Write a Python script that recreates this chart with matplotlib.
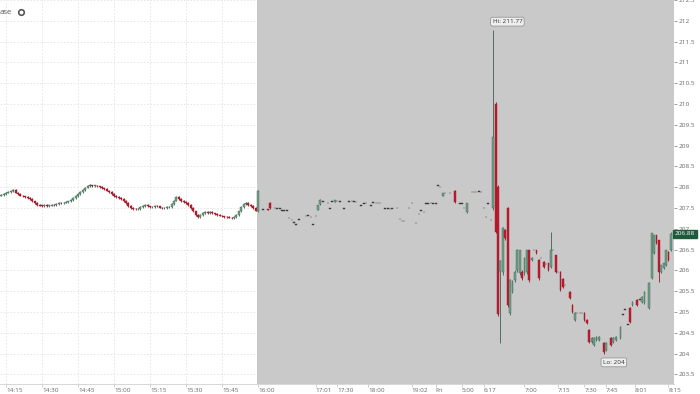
import matplotlib
matplotlib.use("Agg")
import matplotlib.pyplot as plt
from matplotlib.lines import Line2D
import numpy as np

plt.rcParams["font.family"] = ["Open Sans", "DejaVu Sans"]

# one slot per traded minute; regular session 14:12 - 15:59
day_slots = list(range(107))
day_open = [
    207.80, 207.82, 207.84, 207.87, 207.88, 207.90, 207.93, 207.87, 207.83, 207.80,
    207.78, 207.76, 207.74, 207.72, 207.66, 207.62, 207.58, 207.56, 207.55, 207.57,
    207.55, 207.56, 207.58, 207.57, 207.60, 207.62, 207.61, 207.63, 207.64, 207.66,
    207.70, 207.74, 207.79, 207.83, 207.88, 207.94, 207.99, 208.03, 208.04, 208.03,
    208.04, 208.02, 208.00, 207.97, 207.95, 207.92, 207.88, 207.83, 207.79, 207.76,
    207.74, 207.72, 207.67, 207.62, 207.55, 207.50, 207.48, 207.47, 207.48, 207.52,
    207.55, 207.58, 207.54, 207.52, 207.53, 207.55, 207.54, 207.51, 207.49, 207.50,
    207.52, 207.53, 207.60, 207.68, 207.76, 207.72, 207.67, 207.64, 207.62, 207.58,
    207.50, 207.42, 207.33, 207.28, 207.34, 207.38, 207.41, 207.38, 207.40, 207.37,
    207.35, 207.33, 207.32, 207.30, 207.29, 207.28, 207.27, 207.26, 207.29, 207.33,
    207.42, 207.52, 207.60, 207.62, 207.58, 207.55, 207.50,
]
day_high = [
    207.84, 207.86, 207.89, 207.91, 207.92, 207.96, 207.95, 207.89, 207.85, 207.82,
    207.80, 207.78, 207.76, 207.74, 207.68, 207.64, 207.60, 207.58, 207.59, 207.59,
    207.58, 207.60, 207.60, 207.62, 207.64, 207.64, 207.65, 207.66, 207.68, 207.72,
    207.76, 207.81, 207.85, 207.90, 207.96, 208.01, 208.06, 208.07, 208.06, 208.06,
    208.06, 208.04, 208.02, 207.99, 207.97, 207.94, 207.90, 207.85, 207.81, 207.78,
    207.76, 207.74, 207.69, 207.64, 207.57, 207.52, 207.50, 207.50, 207.54, 207.57,
    207.60, 207.60, 207.56, 207.55, 207.57, 207.57, 207.56, 207.53, 207.52, 207.54,
    207.55, 207.62, 207.70, 207.79, 207.78, 207.74, 207.69, 207.66, 207.64, 207.60,
    207.52, 207.44, 207.35, 207.36, 207.40, 207.43, 207.43, 207.42, 207.42, 207.39,
    207.37, 207.35, 207.34, 207.32, 207.31, 207.30, 207.29, 207.31, 207.35, 207.44,
    207.54, 207.62, 207.65, 207.64, 207.60, 207.57, 207.52,
]
day_low = [
    207.78, 207.80, 207.82, 207.85, 207.86, 207.88, 207.85, 207.81, 207.78, 207.76,
    207.74, 207.72, 207.70, 207.64, 207.60, 207.56, 207.54, 207.53, 207.53, 207.53,
    207.53, 207.54, 207.55, 207.55, 207.58, 207.59, 207.59, 207.61, 207.62, 207.64,
    207.68, 207.72, 207.77, 207.81, 207.86, 207.92, 207.97, 208.01, 208.01, 208.01,
    208.00, 207.98, 207.95, 207.93, 207.90, 207.86, 207.81, 207.77, 207.74, 207.72,
    207.70, 207.65, 207.60, 207.53, 207.48, 207.46, 207.45, 207.45, 207.46, 207.50,
    207.53, 207.52, 207.50, 207.50, 207.51, 207.52, 207.49, 207.47, 207.47, 207.48,
    207.50, 207.51, 207.58, 207.66, 207.70, 207.65, 207.62, 207.60, 207.56, 207.48,
    207.40, 207.31, 207.26, 207.26, 207.32, 207.36, 207.36, 207.36, 207.35, 207.33,
    207.31, 207.30, 207.28, 207.27, 207.26, 207.25, 207.24, 207.24, 207.27, 207.31,
    207.40, 207.50, 207.58, 207.56, 207.53, 207.48, 207.42,
]
day_close = [
    207.82, 207.84, 207.87, 207.88, 207.90, 207.93, 207.87, 207.83, 207.80, 207.78,
    207.76, 207.74, 207.72, 207.66, 207.62, 207.58, 207.56, 207.55, 207.57, 207.55,
    207.56, 207.58, 207.57, 207.60, 207.62, 207.61, 207.63, 207.64, 207.66, 207.70,
    207.74, 207.79, 207.83, 207.88, 207.94, 207.99, 208.03, 208.04, 208.03, 208.04,
    208.02, 208.00, 207.97, 207.95, 207.92, 207.88, 207.83, 207.79, 207.76, 207.74,
    207.72, 207.67, 207.62, 207.55, 207.50, 207.48, 207.47, 207.48, 207.52, 207.55,
    207.58, 207.54, 207.52, 207.53, 207.55, 207.54, 207.51, 207.49, 207.50, 207.52,
    207.53, 207.60, 207.68, 207.76, 207.72, 207.67, 207.64, 207.62, 207.58, 207.50,
    207.42, 207.33, 207.28, 207.34, 207.38, 207.41, 207.38, 207.40, 207.37, 207.35,
    207.33, 207.32, 207.30, 207.29, 207.28, 207.27, 207.26, 207.29, 207.33, 207.42,
    207.52, 207.60, 207.62, 207.58, 207.55, 207.50, 207.44,
]

# after hours / overnight, thin trading
night_slots = [
    107, 109, 111, 112, 114, 115, 116, 117, 118, 119, 120, 121, 122, 123, 124,
    127, 128, 129, 130, 131, 132, 133, 134, 136, 137, 138, 139, 140, 141, 143,
    145, 146, 147, 148, 150, 151, 152, 154, 155, 156, 157, 158, 160, 161, 162,
    163, 165, 166, 167, 168, 170, 171, 173, 174, 175, 176, 177, 178, 179, 180,
    181, 182, 183, 184, 185, 187, 189, 191, 192, 193, 194, 196, 197, 198, 199,
    200, 201, 202, 203, 204,
]
night_open = [
    207.42, 207.46, 207.47, 207.62, 207.49, 207.48, 207.48, 207.44, 207.44, 207.43,
    207.26, 207.21, 207.14, 207.10, 207.22, 207.30, 207.32, 207.28, 207.10, 207.30,
    207.46, 207.60, 207.65, 207.62, 207.48, 207.65, 207.65, 207.66, 207.65, 207.48,
    207.65, 207.66, 207.65, 207.64, 207.56, 207.60, 207.61, 207.55, 207.63, 207.62,
    207.62, 207.61, 207.48, 207.48, 207.47, 207.48, 207.49, 207.23, 207.18, 207.18,
    207.49, 207.61, 207.13, 207.35, 207.44, 207.40, 207.60, 207.60, 207.61, 207.60,
    207.60, 208.04, 208.00, 207.80, 207.85, 207.85, 207.92, 207.60, 207.60, 207.49,
    207.40, 207.88, 207.88, 207.88, 207.89, 207.88, 207.49, 207.28, 207.60, 207.20,
]
night_high = [
    207.93, 207.46, 207.47, 207.64, 207.49, 207.48, 207.48, 207.44, 207.44, 207.43,
    207.26, 207.21, 207.14, 207.10, 207.22, 207.30, 207.32, 207.28, 207.10, 207.30,
    207.58, 207.72, 207.65, 207.62, 207.48, 207.65, 207.70, 207.66, 207.65, 207.48,
    207.65, 207.66, 207.65, 207.64, 207.56, 207.60, 207.61, 207.55, 207.63, 207.62,
    207.62, 207.61, 207.48, 207.48, 207.47, 207.48, 207.49, 207.23, 207.18, 207.18,
    207.49, 207.61, 207.13, 207.35, 207.44, 207.40, 207.60, 207.60, 207.61, 207.60,
    207.60, 208.04, 208.00, 207.86, 207.85, 207.85, 207.94, 207.60, 207.60, 207.49,
    207.62, 207.88, 207.88, 207.88, 207.89, 207.88, 207.49, 207.28, 207.60, 207.20,
]
night_low = [
    207.40, 207.46, 207.45, 207.48, 207.49, 207.48, 207.48, 207.44, 207.44, 207.43,
    207.26, 207.21, 207.14, 207.10, 207.22, 207.30, 207.32, 207.28, 207.10, 207.30,
    207.45, 207.58, 207.65, 207.62, 207.48, 207.65, 207.64, 207.66, 207.65, 207.48,
    207.65, 207.66, 207.65, 207.64, 207.56, 207.60, 207.61, 207.55, 207.63, 207.62,
    207.62, 207.61, 207.48, 207.48, 207.47, 207.48, 207.49, 207.23, 207.18, 207.18,
    207.49, 207.61, 207.13, 207.35, 207.44, 207.40, 207.60, 207.60, 207.61, 207.60,
    207.60, 208.04, 208.00, 207.79, 207.85, 207.85, 207.62, 207.60, 207.60, 207.49,
    207.38, 207.88, 207.88, 207.88, 207.89, 207.88, 207.49, 207.28, 207.60, 207.20,
]
night_close = [
    207.90, 207.46, 207.46, 207.49, 207.49, 207.48, 207.48, 207.44, 207.44, 207.43,
    207.26, 207.21, 207.14, 207.10, 207.22, 207.30, 207.32, 207.28, 207.10, 207.30,
    207.58, 207.70, 207.65, 207.62, 207.48, 207.65, 207.69, 207.66, 207.65, 207.48,
    207.65, 207.66, 207.65, 207.64, 207.56, 207.60, 207.61, 207.55, 207.63, 207.62,
    207.62, 207.61, 207.48, 207.48, 207.47, 207.48, 207.49, 207.23, 207.18, 207.18,
    207.49, 207.61, 207.13, 207.35, 207.44, 207.40, 207.60, 207.60, 207.61, 207.60,
    207.60, 208.04, 208.00, 207.85, 207.85, 207.85, 207.64, 207.60, 207.60, 207.49,
    207.61, 207.88, 207.88, 207.88, 207.89, 207.88, 207.49, 207.28, 207.60, 207.20,
]

# Friday pre-market, from the 6:17 spike on
pre_slots = [
    205, 206, 207, 208, 209, 210, 211, 212, 213, 214, 215, 216, 217, 218, 219,
    220, 221, 222, 223, 224, 225, 226, 227, 228, 229, 230, 231, 232, 233, 234,
    235, 237, 238, 239, 240, 241, 242, 243, 244, 245, 246, 247, 248, 249, 251,
    252, 254, 255, 256, 258, 259, 260, 261, 262, 263, 265, 266, 267, 268, 270,
    271, 272, 273, 274, 275, 276, 277, 278, 279,
]
pre_open = [
    207.50, 210.00, 208.00, 205.98, 205.96, 206.96, 207.49, 204.97, 205.48, 205.76,
    206.00, 205.94, 205.96, 205.94, 205.96, 206.48, 206.24, 206.48, 206.48, 206.24,
    206.29, 206.20, 206.15, 206.17, 206.08, 206.48, 206.36, 205.96, 205.96, 205.80,
    205.64, 205.48, 205.17, 204.81, 204.97, 204.97, 204.97, 204.97, 204.81, 204.57,
    204.28, 204.20, 204.33, 204.33, 204.25, 204.09, 204.37, 204.28, 204.33, 204.37,
    204.93, 205.05, 204.69, 205.09, 205.17, 205.29, 205.29, 205.24, 205.21, 205.09,
    205.81, 206.41, 206.84, 206.72, 205.96, 206.05, 206.12, 206.44, 206.48,
]
pre_high = [
    211.77, 210.05, 208.05, 206.25, 207.05, 207.00, 207.52, 205.80, 205.76, 206.00,
    206.52, 206.50, 206.00, 206.32, 206.50, 206.50, 206.33, 206.48, 206.50, 206.27,
    206.29, 206.22, 206.15, 206.19, 206.92, 206.48, 206.38, 205.96, 205.98, 205.82,
    205.64, 205.50, 205.19, 204.99, 204.97, 204.97, 204.97, 204.99, 204.83, 204.59,
    204.39, 204.39, 204.42, 204.42, 204.27, 204.27, 204.39, 204.39, 204.42, 204.66,
    204.93, 205.05, 204.69, 205.11, 205.26, 205.31, 205.29, 205.38, 205.50, 205.71,
    206.91, 206.86, 206.86, 206.74, 206.14, 206.19, 206.50, 206.46, 206.92,
]
pre_low = [
    207.45, 206.90, 204.90, 204.25, 205.90, 206.74, 205.12, 204.92, 205.45, 205.72,
    205.96, 205.90, 205.78, 205.90, 205.92, 205.72, 206.22, 206.48, 206.39, 205.78,
    206.29, 206.05, 206.15, 205.98, 206.05, 206.48, 205.94, 205.96, 205.51, 205.58,
    205.64, 205.31, 204.98, 204.79, 204.97, 204.97, 204.97, 204.79, 204.71, 204.26,
    204.26, 204.18, 204.31, 204.31, 204.00, 204.07, 204.18, 204.26, 204.31, 204.35,
    204.93, 205.05, 204.69, 204.74, 205.15, 205.15, 205.29, 205.22, 205.19, 205.07,
    205.79, 206.39, 206.63, 205.72, 205.94, 206.03, 206.10, 206.22, 206.46,
]
pre_close = [
    209.20, 206.93, 204.95, 206.22, 207.01, 206.77, 205.17, 205.76, 205.72, 205.96,
    206.48, 206.48, 205.81, 206.29, 206.48, 205.76, 206.31, 206.48, 206.41, 205.81,
    206.29, 206.08, 206.15, 206.00, 206.48, 206.48, 205.96, 205.96, 205.53, 205.60,
    205.64, 205.33, 205.00, 204.97, 204.97, 204.97, 204.97, 204.81, 204.73, 204.28,
    204.37, 204.37, 204.40, 204.40, 204.04, 204.25, 204.20, 204.37, 204.40, 204.64,
    204.93, 205.05, 204.69, 204.76, 205.24, 205.17, 205.29, 205.36, 205.48, 205.69,
    206.89, 206.84, 206.65, 205.96, 206.12, 206.17, 206.48, 206.24, 206.88,
]

tick_slots = [2, 17, 32, 47, 62, 77, 92, 107, 131, 140, 153, 171, 181, 192,
              201, 218, 232, 243, 252, 264, 278]
tick_labels = ["14:15", "14:30", "14:45", "15:00", "15:15", "15:30", "15:45",
               "16:00", "17:01", "17:30", "18:00", "19:02", "Fri", "5:00",
               "6:17", "7:00", "7:15", "7:30", "7:45", "8:01", "8:15"]
session_break = 106.5

UP = "#74a08b"
UP_EDGE = "#3a644f"
DOWN = "#c21d30"
DOWN_EDGE = "#961222"
FLAT = "#3a3a3a"


def draw_candles(ax, slots, opens, highs, lows, closes):
    x = np.asarray(slots, dtype=float)
    o = np.asarray(opens)
    h = np.asarray(highs)
    lo = np.asarray(lows)
    c = np.asarray(closes)
    face = np.where(c > o, UP, np.where(c < o, DOWN, FLAT))
    edge = np.where(c > o, UP_EDGE, np.where(c < o, DOWN_EDGE, FLAT))
    ax.vlines(x, lo, h, colors=edge, linewidth=0.6, zorder=3)
    bottom = np.minimum(o, c)
    height = np.maximum(np.abs(c - o), 0.012)
    ax.bar(x, height, bottom=bottom, width=0.8, color=face,
           edgecolor=edge, linewidth=0.3, zorder=4)


fig = plt.figure(figsize=(7, 3.94), dpi=100)
ax = fig.add_axes([0, 10 / 394, 674 / 700, 384 / 394])

ax.axvspan(session_break, 300, color="#c9c9c9", zorder=1, lw=0)

draw_candles(ax, day_slots, day_open, day_high, day_low, day_close)
draw_candles(ax, night_slots, night_open, night_high, night_low, night_close)
draw_candles(ax, pre_slots, pre_open, pre_high, pre_low, pre_close)

ax.set_xlim(-0.5, 280.3)
ax.set_ylim(203.27, 212.5)

ax.set_yticks(np.arange(203.5, 212.51, 0.5))
ax.set_yticklabels([f"{v:g}" for v in np.arange(203.5, 212.51, 0.5)])
ax.yaxis.tick_right()
ax.tick_params(axis="y", labelsize=4.6, colors="#777777", length=2,
               width=0.5, pad=1.5, labelcolor="#666666")

ax.set_xticks(tick_slots)
ax.set_xticklabels(tick_labels)
for lbl in ax.get_xticklabels():
    lbl.set_horizontalalignment("left")
ax.tick_params(axis="x", labelsize=4.6, colors="#bbbbbb", length=2,
               width=0.5, pad=1.2, labelcolor="#666666")

ax.grid(True, color="#e4e4e4", linestyle=(0, (2, 2)), linewidth=0.6, zorder=0)
ax.set_axisbelow(True)
for side in ["top", "left", "right"]:
    ax.spines[side].set_visible(False)
ax.spines["bottom"].set_color("#d0d0d0")
ax.spines["bottom"].set_linewidth(0.6)

# session extremes
hi_i = int(np.argmax(pre_high))
lo_i = int(np.argmin(pre_low))
box = dict(boxstyle="round,pad=0.3,rounding_size=0.3", fc="#eeeeee",
           ec="#8a8a8a", lw=0.5)
ax.annotate(f"Hi: {pre_high[hi_i]:.2f}", (pre_slots[hi_i], pre_high[hi_i]),
            xytext=(-0.5, 4.5), textcoords="offset points", ha="left",
            va="bottom", fontsize=4.6, color="#333333", bbox=box, zorder=6)
ax.annotate(f"Lo: {pre_low[lo_i]:g}", (pre_slots[lo_i], pre_low[lo_i]),
            xytext=(-0.5, -4.5), textcoords="offset points", ha="left",
            va="top", fontsize=4.6, color="#333333", bbox=box, zorder=6)

# last price badge
last = pre_close[-1]
ax.text(1.0015, last, f"{last:.2f}", transform=ax.get_yaxis_transform(),
        ha="left", va="center", fontsize=4.6, color="white", clip_on=False,
        bbox=dict(boxstyle="square,pad=0.25", fc="#1f5a3d", ec="#1f5a3d"),
        zorder=7)

fig.text(0.0, 1 - 12 / 394, "ase", fontsize=5.6, color="#555555",
         ha="left", va="center")
fig.add_artist(Line2D([21 / 700], [1 - 12 / 394], marker="o", ms=4,
                      mfc="white", mec="#555555", mew=1.2,
                      transform=fig.transFigure))

fig.savefig("out.png", dpi=100)
